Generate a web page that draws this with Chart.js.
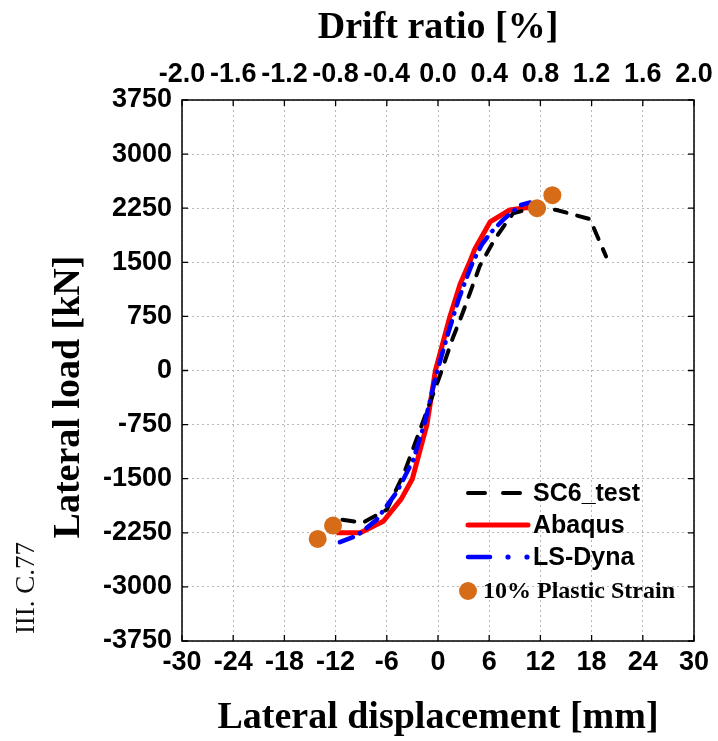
<!DOCTYPE html>
<html>
<head>
<meta charset="utf-8">
<script src="https://cdn.jsdelivr.net/npm/chart.js@4.4.1/dist/chart.umd.min.js"></script>
<style>
    html, body { margin: 0; padding: 0; background: #fff; }
    canvas { display: block; }
</style>
</head>
<body>
<canvas id="load-chart" width="718" height="741"></canvas>
<script>
'use strict';

// axis ticks
var dispTicks = [-30, -24, -18, -12, -6, 0, 6, 12, 18, 24, 30];
var driftTicks = [-2.0, -1.6, -1.2, -0.8, -0.4, 0.0, 0.4, 0.8, 1.2, 1.6, 2.0];
var loadTicks = [-3750, -3000, -2250, -1500, -750, 0, 750, 1500, 2250, 3000, 3750];

// SC6_test (lateral displacement [mm], lateral load [kN])
var testDisp = [-11.2, -8.8, -6.0, -3.9, -2.6, -1.2, 0.2, 1.7, 2.9, 4.9, 6.7, 8.8, 11.5, 13.9, 17.8, 19.7];
var testLoad = [-2070, -2110, -1930, -1400, -980, -530, -80, 440, 800, 1450, 1830, 2180, 2260, 2225, 2100, 1580];

// Abaqus
var abaqusDisp = [-11.9, -9.1, -6.4, -4.3, -3.0, -1.3, -0.3, 1.4, 2.6, 3.7, 4.3, 6.1, 8.4, 10.5, 11.6];
var abaqusLoad = [-2250, -2250, -2090, -1780, -1500, -750, 0, 750, 1200, 1500, 1680, 2060, 2225, 2260, 2250];

// LS-Dyna
var dynaDisp = [-11.5, -9.5, -7.2, -4.8, -2.9, -1.5, -0.2, 1.2, 2.4, 3.4, 4.0, 5.1, 6.1, 7.6, 9.6, 10.8];
var dynaLoad = [-2380, -2290, -2070, -1680, -1240, -700, -50, 520, 980, 1300, 1480, 1740, 1900, 2085, 2290, 2330];

// 10% plastic strain markers
var strainDisp = [11.6, 13.4, -12.3, -14.1];
var strainLoad = [2250, 2430, -2150, -2335];

var ORANGE = '#d66c17';
var SANS = '"Liberation Sans", Arial, sans-serif';
var SERIF = '"Liberation Serif", "Times New Roman", serif';

function toPoints(xs, ys) {
    return xs.map((x, i) => ({ x: x, y: ys[i] }));
}

function fixedTicks(values) {
    return function (scale) {
        scale.ticks = values.map(v => ({ value: v }));
    };
}

// keep the plot box fixed; labels may hang over the edges
function fitHorizontal(scale) {
    scale.height = 100;
    scale.paddingLeft = 0;
    scale.paddingRight = 0;
}

// frame, inward tick marks, y title, legend and stray page text
var decorations = {
    id: 'decorations',
    afterDraw: function (chart) {
        var ctx = chart.ctx;
        var area = chart.chartArea;
        var xs = chart.scales.x;
        var ys = chart.scales.y;
        var tl = 6;

        ctx.save();
        ctx.strokeStyle = '#000';
        ctx.lineWidth = 1.5;
        ctx.setLineDash([]);
        ctx.strokeRect(area.left, area.top, area.right - area.left, area.bottom - area.top);

        ctx.lineWidth = 1.3;
        ctx.beginPath();
        dispTicks.forEach(v => {
            var px = xs.getPixelForValue(v);
            ctx.moveTo(px, area.bottom);
            ctx.lineTo(px, area.bottom - tl);
            ctx.moveTo(px, area.top);
            ctx.lineTo(px, area.top + tl);
        });
        loadTicks.forEach(v => {
            var py = ys.getPixelForValue(v);
            ctx.moveTo(area.left, py);
            ctx.lineTo(area.left + tl, py);
            ctx.moveTo(area.right, py);
            ctx.lineTo(area.right - tl, py);
        });
        ctx.stroke();

        // y axis title
        ctx.save();
        ctx.translate(69, 397);
        ctx.rotate(-Math.PI / 2);
        ctx.font = 'bold 38px ' + SERIF;
        ctx.fillStyle = '#000';
        ctx.textAlign = 'center';
        ctx.textBaseline = 'middle';
        ctx.fillText('Lateral load [kN]', 0, 0);
        ctx.restore();

        // stray text at left margin
        ctx.save();
        ctx.translate(27, 588);
        ctx.rotate(-Math.PI / 2);
        ctx.font = '27px ' + SERIF;
        ctx.fillStyle = '#111';
        ctx.textAlign = 'center';
        ctx.textBaseline = 'middle';
        ctx.fillText("III. C.77", 0, 0);
        ctx.restore();

        // legend
        var lx = 468;
        ctx.lineCap = 'round';

        ctx.strokeStyle = '#000';
        ctx.lineWidth = 4;
        ctx.beginPath();
        ctx.moveTo(lx, 493); ctx.lineTo(lx + 17, 493);
        ctx.moveTo(lx + 35, 493); ctx.lineTo(lx + 52, 493);
        ctx.stroke();

        ctx.strokeStyle = '#ff0000';
        ctx.lineWidth = 5;
        ctx.beginPath();
        ctx.moveTo(lx, 525); ctx.lineTo(lx + 60, 525);
        ctx.stroke();

        ctx.strokeStyle = '#0000ff';
        ctx.fillStyle = '#0000ff';
        ctx.lineWidth = 4.5;
        ctx.beginPath();
        ctx.moveTo(lx, 557); ctx.lineTo(lx + 22, 557);
        ctx.stroke();
        [lx + 40, lx + 59].forEach(cx => {
            ctx.beginPath();
            ctx.arc(cx, 557, 2.6, 0, Math.PI * 2);
            ctx.fill();
        });

        ctx.fillStyle = ORANGE;
        ctx.beginPath();
        ctx.arc(lx, 591, 9, 0, Math.PI * 2);
        ctx.fill();

        ctx.fillStyle = '#000';
        ctx.textAlign = 'left';
        ctx.textBaseline = 'middle';
        ctx.font = 'bold 25px ' + SANS;
        ctx.fillText('SC6_test', 533, 494);
        ctx.fillText('Abaqus', 533, 526);
        ctx.fillText('LS-Dyna', 533, 558);
        ctx.font = 'bold 24px ' + SERIF;
        ctx.fillText('10% Plastic Strain', 483, 592);

        ctx.restore();
    }
};

var tickFont = { family: SANS, size: 27, weight: 'bold' };
var titleFont = { family: SERIF, size: 38, weight: 'bold' };

var chart = new Chart(document.getElementById('load-chart'), {
    type: 'scatter',
    data: {
        datasets: [
            {
                label: '10% Plastic Strain',
                data: toPoints(strainDisp, strainLoad),
                showLine: false,
                pointRadius: 9,
                pointBackgroundColor: ORANGE,
                pointBorderWidth: 0,
                xAxisID: 'x',
                yAxisID: 'y'
            },
            {
                label: 'LS-Dyna',
                data: toPoints(dynaDisp, dynaLoad),
                showLine: true,
                pointRadius: 0,
                borderColor: '#0000ff',
                borderWidth: 4.5,
                borderDash: [14, 8, 0.5, 8],
                borderCapStyle: 'round',
                xAxisID: 'x',
                yAxisID: 'y'
            },
            {
                label: 'SC6_test',
                data: toPoints(testDisp, testLoad),
                showLine: true,
                pointRadius: 0,
                borderColor: '#000',
                borderWidth: 4,
                borderDash: [12, 11],
                borderCapStyle: 'round',
                xAxisID: 'x',
                yAxisID: 'y'
            },
            {
                label: 'Abaqus',
                data: toPoints(abaqusDisp, abaqusLoad),
                showLine: true,
                pointRadius: 0,
                borderColor: '#ff0000',
                borderWidth: 5,
                borderJoinStyle: 'round',
                xAxisID: 'x',
                yAxisID: 'y'
            }
        ]
    },
    options: {
        responsive: false,
        animation: false,
        layout: { padding: { left: 0, right: 24, top: 0, bottom: 0 } },
        plugins: {
            legend: { display: false },
            tooltip: { enabled: false }
        },
        scales: {
            x: {
                type: 'linear',
                position: 'bottom',
                min: -30,
                max: 30,
                afterBuildTicks: fixedTicks(dispTicks),
                afterFit: fitHorizontal,
                grid: { color: '#b8b8b8', lineWidth: 1, drawTicks: false },
                border: { display: false, dash: [2, 3] },
                ticks: {
                    color: '#000',
                    font: tickFont,
                    padding: 5,
                    autoSkip: false,
                    maxRotation: 0,
                    callback: v => String(v)
                },
                title: {
                    display: true,
                    text: 'Lateral displacement [mm]',
                    color: '#000',
                    font: titleFont,
                    padding: { top: 0, bottom: 0 }
                }
            },
            x2: {
                type: 'linear',
                position: 'top',
                min: -2,
                max: 2,
                afterBuildTicks: fixedTicks(driftTicks),
                afterFit: fitHorizontal,
                grid: { display: false, drawTicks: false },
                border: { display: false },
                ticks: {
                    color: '#000',
                    font: tickFont,
                    padding: 9,
                    autoSkip: false,
                    maxRotation: 0,
                    callback: v => Math.abs(v) < 1e-9 ? '0.0' : v.toFixed(1)
                },
                title: {
                    display: true,
                    text: 'Drift ratio [%]',
                    color: '#000',
                    font: titleFont,
                    padding: { top: 5, bottom: 0 }
                }
            },
            y: {
                type: 'linear',
                position: 'left',
                min: -3750,
                max: 3750,
                afterBuildTicks: fixedTicks(loadTicks),
                afterFit: scale => { scale.width = 182; },
                grid: { color: '#b8b8b8', lineWidth: 1, drawTicks: false },
                border: { display: false, dash: [2, 3] },
                ticks: {
                    color: '#000',
                    font: tickFont,
                    padding: 10,
                    callback: v => String(v)
                }
            }
        }
    },
    plugins: [decorations]
});
</script>
</body>
</html>
